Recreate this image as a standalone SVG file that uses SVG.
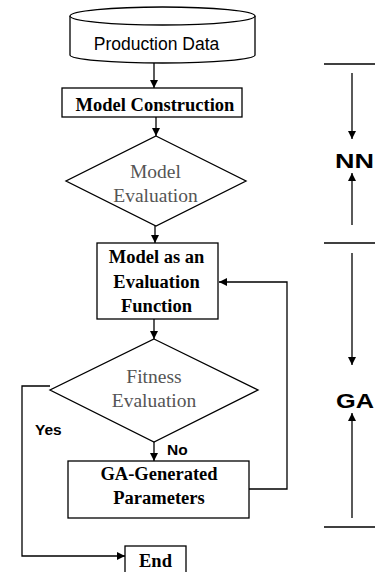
<svg xmlns="http://www.w3.org/2000/svg" width="375" height="572" viewBox="0 0 375 572">
<style>
.s{fill:none;stroke:#000;stroke-width:1.3}
.b{fill:#fff;stroke:#000;stroke-width:1.3}
.bs{font-family:"Liberation Serif",serif;font-weight:bold;font-size:18.5px;fill:#000;text-anchor:middle}
.gs{font-family:"Liberation Serif",serif;font-size:19.5px;fill:#555;text-anchor:middle}
.ss{font-family:"Liberation Sans",Arial,sans-serif;font-size:17.5px;fill:#000;text-anchor:middle}
.lb{font-family:"Liberation Sans",Arial,sans-serif;font-weight:bold;font-size:15.5px;fill:#000}
.big{font-family:"Liberation Sans",Arial,sans-serif;font-weight:bold;font-size:21px;fill:#000}
</style>
<defs>
<marker id="ah" viewBox="0 0 10 10" refX="10" refY="5" markerWidth="8" markerHeight="8" markerUnits="userSpaceOnUse" orient="auto">
<path d="M0,0 L10,5 L0,10 z" fill="#000"/>
</marker>
</defs>
<g id="connectors">
<line class="s" x1="154" y1="62" x2="154" y2="88" marker-end="url(#ah)"/>
<line class="s" x1="156" y1="117" x2="156" y2="136" marker-end="url(#ah)"/>
<line class="s" x1="155" y1="226" x2="155" y2="243" marker-end="url(#ah)"/>
<line class="s" x1="154" y1="319" x2="154" y2="339" marker-end="url(#ah)"/>
<line class="s" x1="154" y1="442" x2="154" y2="461" marker-end="url(#ah)"/>
<polyline class="s" points="249,489 287,489 287,282 219,282" marker-end="url(#ah)"/>
<polyline class="s" points="50,386 22,386 22,556 125,556" marker-end="url(#ah)"/>
<line class="s" x1="324" y1="64" x2="375" y2="64"/>
<line class="s" x1="324" y1="243" x2="375" y2="243"/>
<line class="s" x1="324" y1="527" x2="375" y2="527"/>
<line class="s" x1="352" y1="73" x2="352" y2="139" marker-end="url(#ah)"/>
<line class="s" x1="352" y1="225" x2="352" y2="173" marker-end="url(#ah)"/>
<line class="s" x1="352" y1="253" x2="352" y2="365" marker-end="url(#ah)"/>
<line class="s" x1="352" y1="518" x2="352" y2="413" marker-end="url(#ah)"/>
</g>
<g id="production-data">
<path class="b" d="M70,16 L70,55 A92.5,8 0 0 0 255,55 L255,16"/>
<ellipse class="b" cx="162.5" cy="16" rx="92.5" ry="9"/>
<text class="ss" x="156.5" y="50">Production Data</text>
</g>
<g id="model-construction">
<rect class="b" x="62" y="88" width="180" height="29"/>
<text class="bs" x="155" y="111">Model Construction</text>
</g>
<g id="model-evaluation">
<polygon class="b" points="156,136 246,181 156,226 66,181"/>
<text class="gs" x="155.5" y="178">Model</text>
<text class="gs" x="155.5" y="202">Evaluation</text>
</g>
<g id="evaluation-function">
<rect class="b" x="97" y="243" width="121" height="76"/>
<text class="bs" x="156.5" y="263">Model as an</text>
<text class="bs" x="156.5" y="288">Evaluation</text>
<text class="bs" x="156.5" y="312">Function</text>
</g>
<g id="fitness-evaluation">
<polygon class="b" points="154,339 258,390 154,442 50,390"/>
<text class="gs" x="154" y="383">Fitness</text>
<text class="gs" x="154" y="407">Evaluation</text>
</g>
<g id="ga-parameters">
<rect class="b" x="68" y="461" width="181" height="57"/>
<text class="bs" x="159" y="480">GA-Generated</text>
<text class="bs" x="159" y="504">Parameters</text>
</g>
<g id="end">
<rect class="b" x="125" y="546" width="61" height="30"/>
<text class="bs" x="155.5" y="567">End</text>
</g>
<g id="labels">
<text class="lb" x="35" y="435">Yes</text>
<text class="lb" x="167" y="455">No</text>
<text class="big" x="335" y="168" textLength="39" lengthAdjust="spacingAndGlyphs">NN</text>
<text class="big" x="336" y="408" textLength="38" lengthAdjust="spacingAndGlyphs">GA</text>
</g>
</svg>
